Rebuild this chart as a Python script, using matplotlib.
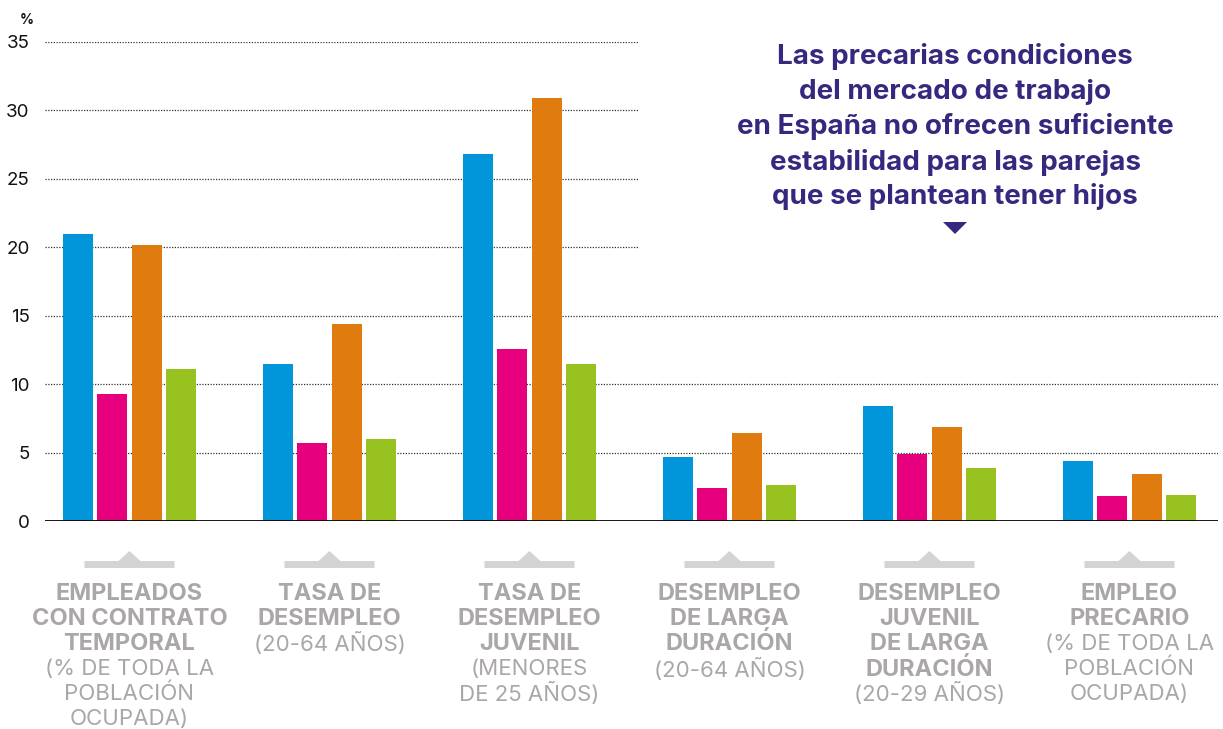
import matplotlib
matplotlib.use("Agg")
import matplotlib.pyplot as plt
import matplotlib.transforms as mtransforms
from matplotlib.patches import Polygon
import numpy as np

plt.rcParams['font.family'] = ['Inter', 'DejaVu Sans']

# data
blue = [21.0, 11.5, 26.8, 4.7, 8.4, 4.4]
pink = [9.3, 5.7, 12.6, 2.4, 4.9, 1.8]
orange = [20.2, 14.4, 30.9, 6.4, 6.9, 3.4]
green = [11.1, 6.0, 11.5, 2.6, 3.9, 1.9]
yticks = [0, 5, 10, 15, 20, 25, 30, 35]

bold_lines = [
    ["EMPLEADOS", "CON CONTRATO", "TEMPORAL"],
    ["TASA DE", "DESEMPLEO"],
    ["TASA DE", "DESEMPLEO", "JUVENIL"],
    ["DESEMPLEO", "DE LARGA", "DURACIÓN"],
    ["DESEMPLEO", "JUVENIL", "DE LARGA", "DURACIÓN"],
    ["EMPLEO", "PRECARIO"],
]
normal_lines = [
    ["(% DE TODA LA", "POBLACIÓN", "OCUPADA)"],
    ["(20-64 AÑOS)"],
    ["(MENORES", "DE 25 AÑOS)"],
    ["(20-64 AÑOS)"],
    ["(20-29 AÑOS)"],
    ["(% DE TODA LA", "POBLACIÓN", "OCUPADA)"],
]
title_lines = [
    "Las precarias condiciones",
    "del mercado de trabajo",
    "en España no ofrecen suficiente",
    "estabilidad para las parejas",
    "que se plantean tener hijos",
]

colors = ["#0096d9", "#e6007e", "#e07b10", "#97c21f"]
label_gray = "#aba6a7"
purple = "#35287f"

W, H = 1223, 729
fig = plt.figure(figsize=(W / 100, H / 100), dpi=100)
ax = fig.add_axes([45 / W, (H - 521) / H, (1218 - 45) / W, (521 - 42) / H])

x = np.arange(len(blue))
step = 0.1715
width = 0.15
for k, (vals, c) in enumerate(zip([blue, pink, orange, green], colors)):
    ax.bar(x + (k - 1.5) * step, vals, width=width, color=c, zorder=3)

xmin, xmax = -0.4225, 5.4425
ax.set_xlim(xmin, xmax)
ax.set_ylim(0, 35)

# dotted grid; upper lines stop before the annotation
for t in yticks[1:]:
    right = 2.5425 if t >= 20 else xmax
    ax.hlines(t, xmin, right, colors="#333333", linestyles=(0, (1, 1.2)),
              linewidth=0.9, zorder=1)
ax.axhline(0, color="black", linewidth=2, zorder=4)

for s in ax.spines.values():
    s.set_visible(False)
ax.set_xticks([])
ax.set_yticks(yticks)
ax.tick_params(axis="y", length=0, pad=11, labelsize=13.5, labelcolor="#111111")
fig.text(34 / W, 1 - 20 / H, "%", ha="right", va="center",
         fontsize=10, fontweight="bold", color="#111111")

# category markers and labels
blend = mtransforms.blended_transform_factory(ax.transData, fig.transFigure)
for i in range(len(blue)):
    y0 = 1 - 568 / H
    y1 = 1 - 561 / H
    yp = 1 - 551 / H
    pts = [(i - 0.225, y0), (i + 0.225, y0), (i + 0.225, y1), (i + 0.055, y1),
           (i, yp), (i - 0.055, y1), (i - 0.225, y1)]
    ax.add_patch(Polygon(pts, closed=True, transform=blend, color="#d5d3d5",
                         clip_on=False, lw=0))
    lines = [(s, "bold", 17) for s in bold_lines[i]] + [(s, "normal", 16) for s in normal_lines[i]]
    for j, (s, w, fs) in enumerate(lines):
        ax.text(i, 1 - (594 + 25 * j) / H, s, transform=blend, ha="center", va="center",
                fontsize=fs, fontweight=w, color=label_gray)

# annotation
for j, s in enumerate(title_lines):
    fig.text(955 / W, 1 - (57 + 35 * j) / H, s, ha="center", va="center",
             fontsize=20, fontweight="bold", color=purple)
fig.add_artist(Polygon([(943 / W, 1 - 222 / H), (967 / W, 1 - 222 / H), (955 / W, 1 - 234 / H)],
                       closed=True, transform=fig.transFigure, color=purple, lw=0))

fig.savefig("out.png", dpi=100)
